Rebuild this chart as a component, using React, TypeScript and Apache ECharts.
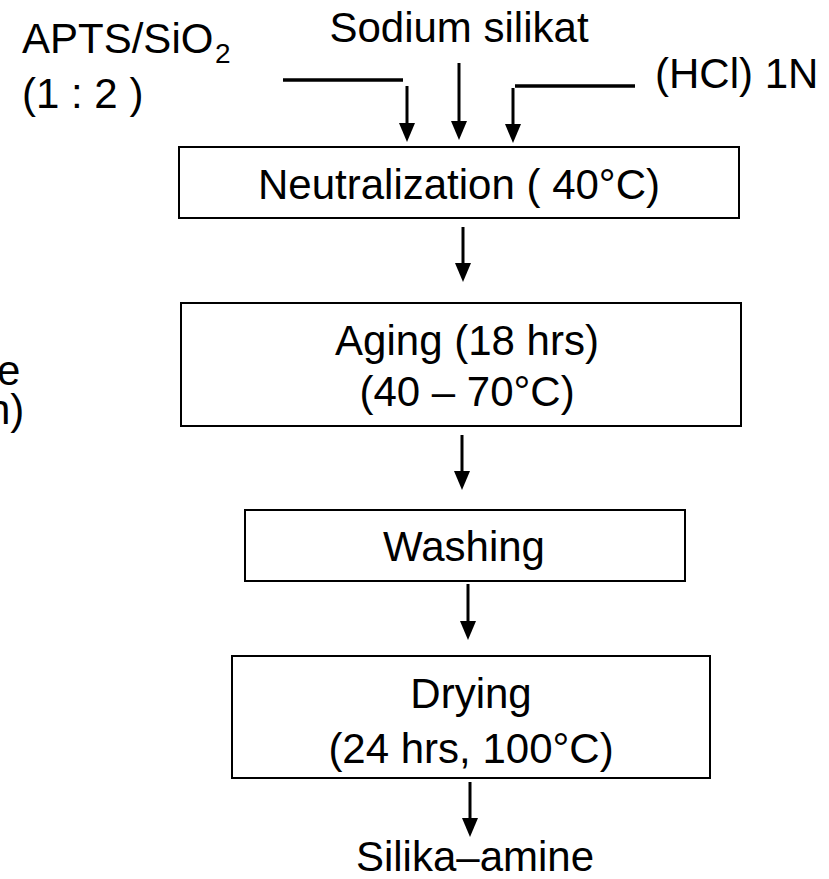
import React, { useEffect, useRef } from "react";
import * as echarts from "echarts";

// ---- content ----
const inputLabels = ["APTS/SiO", "Sodium silikat", "(HCl) 1N"];
const inputSub = "2";
const ratioLabel = "(1 : 2 )";
const stepLabels: string[][] = [
  ["Neutralization ( 40°C)"],
  ["Aging (18 hrs)", "(40 – 70°C)"],
  ["Washing"],
  ["Drying", "(24 hrs, 100°C)"],
];
const productLabel = "Silika–amine";
const sideLabels = ["e", "n)"];

// ---- layout (pixels) ----
const boxRects = [
  [179, 147, 560, 71],
  [181, 303, 560, 123],
  [245, 510, 440, 71],
  [232, 656, 478, 122],
];
const stepTextX = [459, 467, 464, 471];
const stepTextY = [[184], [340, 391], [546], [693, 748]];
const arrows = [
  [407, 86, 142],
  [459, 63, 140],
  [513, 88, 143],
  [463, 227, 282],
  [462, 435, 490],
  [468, 584, 640],
  [470, 782, 837],
];
const connectors = [
  [283, 80, 403, 80],
  [515, 86, 635, 86],
];

const FONT = '"Liberation Sans", Arial, Helvetica, sans-serif';

function txt(text: string, x: number, y: number, align = "center", size = 42, lh?: number) {
  return {
    type: "text",
    x,
    y,
    silent: true,
    style: {
      text,
      fontSize: size,
      fontFamily: FONT,
      fill: "#000",
      align,
      verticalAlign: "middle",
      lineHeight: lh ?? Math.round(size * 1.1),
    },
  };
}

export default function App() {
  const ref = useRef<HTMLDivElement>(null);
  useEffect(() => {
    document.body.style.margin = "0";
    const chart = echarts.init(ref.current!, null, { renderer: "svg" });
    const elements: any[] = [];

    boxRects.forEach(([x, y, w, h]) => {
      elements.push({
        type: "rect",
        shape: { x, y, width: w, height: h },
        style: { fill: "#fff", stroke: "#000", lineWidth: 2 },
      });
    });
    connectors.forEach(([x1, y1, x2, y2]) => {
      elements.push({
        type: "line",
        shape: { x1, y1, x2, y2 },
        style: { stroke: "#000", lineWidth: 3.5 },
      });
    });
    arrows.forEach(([x, y1, tip]) => {
      elements.push({
        type: "line",
        shape: { x1: x, y1, x2: x, y2: tip - 16 },
        style: { stroke: "#000", lineWidth: 3 },
      });
      elements.push({
        type: "polygon",
        shape: { points: [[x - 8, tip - 19], [x + 8, tip - 19], [x, tip]] },
        style: { fill: "#000" },
      });
    });

    stepLabels.forEach((lines, i) => {
      lines.forEach((l, j) => elements.push(txt(l, stepTextX[i], stepTextY[i][j])));
    });

    elements.push(txt(inputLabels[0], 22, 38, "left"));
    elements.push(txt(inputSub, 215, 53, "left", 28));
    elements.push(txt(ratioLabel, 22, 93, "left"));
    elements.push(txt(inputLabels[1], 459, 27));
    elements.push(txt(inputLabels[2], 655, 73, "left"));
    elements.push(txt(productLabel, 475, 856, "center", 42, 40));
    elements.push(txt(sideLabels[0], -3, 370, "left", 42, 34));
    elements.push(txt(sideLabels[1], -13, 409, "left", 42, 34));

    chart.setOption({
      animation: false,
      backgroundColor: "#fff",
      graphic: { elements },
    });
    return () => chart.dispose();
  }, []);
  return (
    <div
      ref={ref}
      style={{ position: "fixed", left: 0, top: 0, width: 829, height: 879, background: "#fff" }}
    />
  );
}
